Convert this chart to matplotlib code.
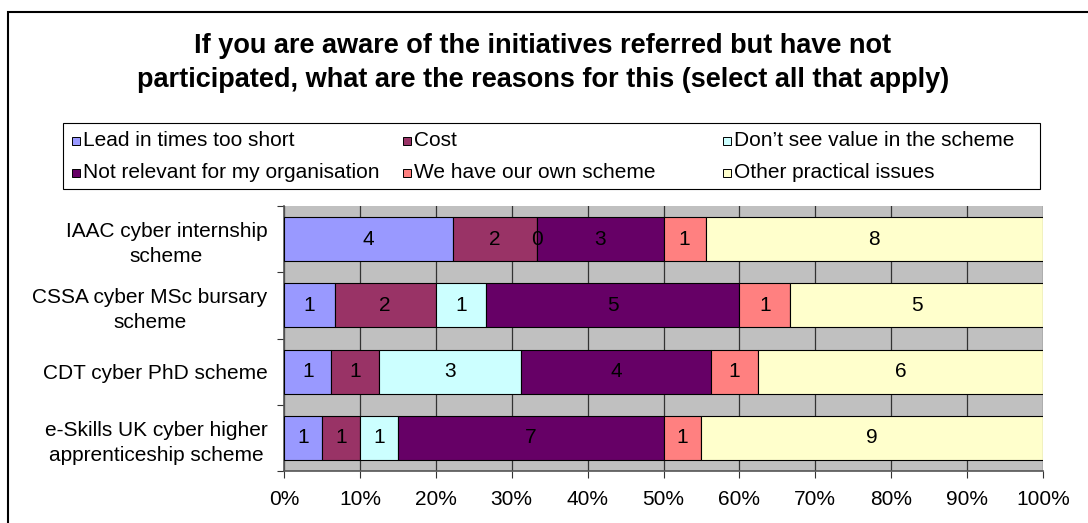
import matplotlib.pyplot as plt
import numpy as np
from matplotlib.patches import Rectangle

plt.rcParams['font.family'] = ['Liberation Sans', 'DejaVu Sans']

# Data
schemes = ['IAAC cyber internship\nscheme',
           'CSSA cyber MSc bursary\nscheme',
           'CDT cyber PhD scheme',
           'e-Skills UK cyber higher\napprenticeship scheme']
reasons = ['Lead in times too short', 'Cost', "Don\u2019t see value in the scheme",
           'Not relevant for my organisation', 'We have our own scheme',
           'Other practical issues']
lead_in = [4, 1, 1, 1]
cost = [2, 2, 1, 1]
no_value = [0, 1, 3, 1]
not_relevant = [3, 5, 4, 7]
own_scheme = [1, 1, 1, 1]
other = [8, 5, 6, 9]

colors = ['#9999FF', '#993366', '#CCFFFF', '#660066', '#FF8080', '#FFFFCC']

counts = np.array([lead_in, cost, no_value, not_relevant, own_scheme, other], dtype=float)
pct = counts / counts.sum(axis=0) * 100

W, H = 1088, 523
fs = 15

fig = plt.figure(figsize=(10.88, 5.23), dpi=100)
ax = fig.add_axes([284/W, 1 - 471/H, (1043 - 284)/W, (471 - 206)/H])

# outer chart border
fig.patches.append(Rectangle((8/W, -0.05), 1.1, 1.05 - 12/H, transform=fig.transFigure,
                             fill=False, edgecolor='black', linewidth=1.5, zorder=0))

y = np.arange(len(schemes))[::-1]
left = np.zeros(len(schemes))
for i in range(len(reasons)):
    bars = ax.barh(y, pct[i], left=left, height=0.667, color=colors[i],
                   edgecolor='black', linewidth=0.8, zorder=3)
    for b, c in zip(bars, counts[i]):
        ax.text(b.get_x() + b.get_width() / 2, b.get_y() + b.get_height() / 2,
                f'{int(c)}', ha='center', va='center', fontsize=fs,
                color='black', zorder=4)
    left += pct[i]

ax.set_facecolor('#C0C0C0')
ax.set_xlim(0, 100)
ax.set_ylim(-0.5, len(schemes) - 0.5)
ax.set_xticks(np.arange(0, 101, 10))
ax.set_xticklabels([f'{v}%' for v in range(0, 101, 10)], fontsize=fs)
ax.set_yticks(np.arange(-0.5, len(schemes), 1.0))
ax.set_yticklabels([])
ax.set_yticks(y, minor=True)
ax.set_yticklabels(schemes, minor=True, fontsize=fs, multialignment='center',
                   linespacing=1.4)
ax.tick_params(axis='y', which='minor', length=0, pad=12)
ax.tick_params(axis='y', which='major', length=5, color='#333333')
ax.tick_params(axis='x', length=5, color='#333333', pad=9)
ax.grid(axis='x', color='#333333', linewidth=0.9, zorder=1)
ax.set_axisbelow(True)
for side in ['top', 'right']:
    ax.spines[side].set_visible(False)
for side in ['left', 'bottom']:
    ax.spines[side].set_color('#555555')
    ax.spines[side].set_linewidth(1.2)

fig.text(543/W, 1 - 63/H,
         'If you are aware of the initiatives referred but have not\n'
         'participated, what are the reasons for this (select all that apply)',
         ha='center', va='center', fontsize=19.5, fontweight='bold', linespacing=1.38)

# legend box
fig.patches.append(Rectangle((63/W, 1 - 189/H), (1040 - 63)/W, 66/H, transform=fig.transFigure,
                             fill=True, facecolor='white', edgecolor='black', linewidth=0.8))
col_x = [72, 403, 723]
row_y = [141, 173]
for i, (name, col) in enumerate(zip(reasons, colors)):
    cx = col_x[i % 3]
    ry = row_y[i // 3]
    fig.patches.append(Rectangle((cx/W, 1 - (ry + 4)/H), 8/W, 8/H, transform=fig.transFigure,
                                 facecolor=col, edgecolor='black', linewidth=0.7))
    fig.text((cx + 11)/W, 1 - ry/H, name, ha='left', va='center', fontsize=fs)

fig.savefig('out.png', dpi=100)
